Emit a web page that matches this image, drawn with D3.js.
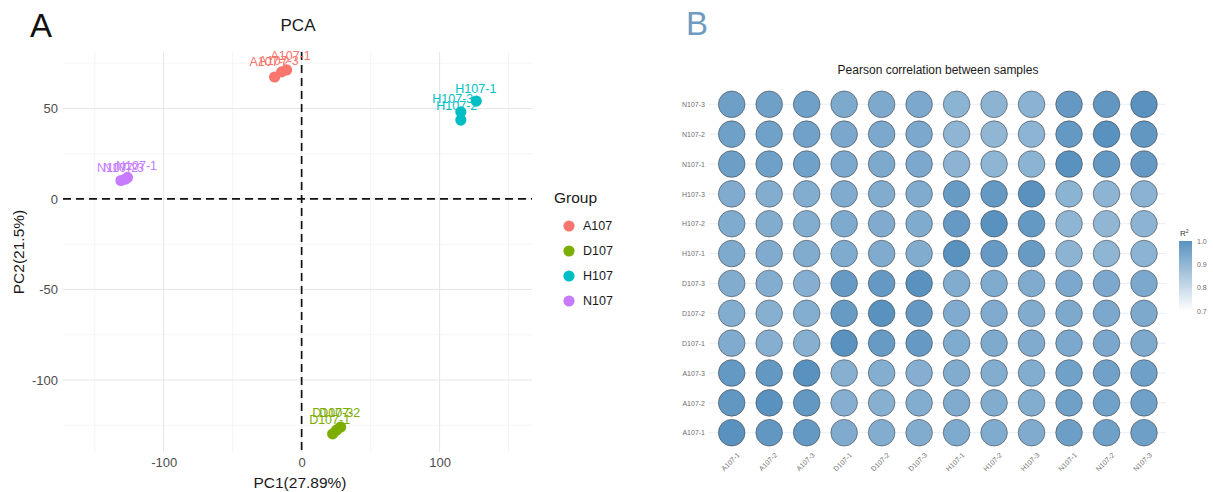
<!DOCTYPE html>
<html>
<head>
<meta charset="utf-8">
<script src="https://cdn.jsdelivr.net/npm/d3@7/dist/d3.min.js"></script>
<style>
  html, body { margin: 0; padding: 0; background: #ffffff; }
  svg { display: block; }
  text { font-family: "Liberation Sans", Arial, sans-serif; }
</style>
</head>
<body>
<svg id="fig" width="1213" height="492"></svg>
<script>
// ---------- Panel A: PCA scores ----------
const pcaSamples = ["A107-1","A107-2","A107-3","D107-1","D107-2","D107-3",
                    "H107-1","H107-2","H107-3","N107-1","N107-2","N107-3"];
const pcaGroup   = ["A107","A107","A107","D107","D107","D107",
                    "H107","H107","H107","N107","N107","N107"];
const pc1 = [-19.6, -14.5, -10.9, 22.5, 28.3, 25.4, 126.6, 115.4, 115.4, -126.3, -131.0, -127.7];
const pc2 = [67.4, 70.2, 71.3, -129.8, -126.0, -127.6, 54.1, 43.6, 48.1, 11.9, 10.2, 11.0];
// repelled label positions (data units)
const labelPC1 = [-8.0, -23.2, -16.7, 20.3, 27.6, 22.5, 126.3, 112.5, 109.6, -119.7, -133.5, -129.2];
const labelPC2 = [79.0, 75.7, 76.2, -122.1, -118.2, -118.2, 60.8, 51.4, 55.2, 18.0, 17.1, 17.1];

const groups = ["A107","D107","H107","N107"];
const groupColors = ["#F8766D","#7CAE00","#00BFC4","#C77CFF"];

const xMajor = [-100, 0, 100];
const xMinor = [-150, -50, 50, 150];
const yMajor = [-100, -50, 0, 50];
const yMinor = [-125, -75, -25, 25, 75];

// ---------- Panel B: Pearson correlation ----------
const corrSamples = ["A107-1","A107-2","A107-3","D107-1","D107-2","D107-3",
                     "H107-1","H107-2","H107-3","N107-1","N107-2","N107-3"];
const r2Matrix = [
  [1.000,0.986,0.982,0.930,0.925,0.928,0.935,0.932,0.930,0.965,0.962,0.963],
  [0.986,1.000,0.984,0.922,0.920,0.925,0.930,0.928,0.926,0.962,0.960,0.961],
  [0.982,0.984,1.000,0.918,0.924,0.922,0.928,0.926,0.925,0.960,0.958,0.962],
  [0.930,0.922,0.918,1.000,0.976,0.978,0.932,0.935,0.930,0.940,0.942,0.938],
  [0.925,0.920,0.924,0.976,1.000,0.980,0.930,0.930,0.928,0.938,0.940,0.936],
  [0.928,0.925,0.922,0.978,0.980,1.000,0.928,0.932,0.930,0.940,0.940,0.940],
  [0.935,0.930,0.928,0.932,0.930,0.928,1.000,0.978,0.975,0.908,0.905,0.910],
  [0.932,0.928,0.926,0.935,0.930,0.932,0.978,1.000,0.982,0.905,0.902,0.908],
  [0.930,0.926,0.925,0.930,0.928,0.930,0.975,0.982,1.000,0.910,0.906,0.912],
  [0.965,0.962,0.960,0.940,0.938,0.940,0.908,0.905,0.910,1.000,0.982,0.980],
  [0.962,0.960,0.958,0.942,0.940,0.940,0.905,0.902,0.906,0.982,1.000,0.985],
  [0.963,0.961,0.962,0.938,0.936,0.940,0.910,0.908,0.912,0.980,0.985,1.000]
];
const r2Ticks = [0.7, 0.8, 0.9, 1.0];

const svg = d3.select("#fig");
svg.append("rect").attr("width", 1213).attr("height", 492).attr("fill", "#ffffff");

// plain hyphen-minus tick labels
const plainNum = d => String(d);

// =====================================================
// Panel A
// =====================================================
const gA = svg.append("g");
const x = d3.scaleLinear().domain([-173, 167]).range([63, 532]);
const y = d3.scaleLinear().domain([-139.8, 81.2]).range([452, 52]);
const color = d3.scaleOrdinal().domain(groups).range(groupColors);

// grid
const grid = gA.append("g");
grid.selectAll(".xmin").data(xMinor).join("line")
  .attr("x1", d => x(d)).attr("x2", d => x(d))
  .attr("y1", y.range()[1]).attr("y2", y.range()[0])
  .attr("stroke", "#f3f3f3").attr("stroke-width", 0.8);
grid.selectAll(".ymin").data(yMinor).join("line")
  .attr("y1", d => y(d)).attr("y2", d => y(d))
  .attr("x1", x.range()[0]).attr("x2", x.range()[1])
  .attr("stroke", "#f3f3f3").attr("stroke-width", 0.8);
grid.selectAll(".xmaj").data(xMajor).join("line")
  .attr("x1", d => x(d)).attr("x2", d => x(d))
  .attr("y1", y.range()[1]).attr("y2", y.range()[0])
  .attr("stroke", "#e6e6e6").attr("stroke-width", 1);
grid.selectAll(".ymaj").data(yMajor).join("line")
  .attr("y1", d => y(d)).attr("y2", d => y(d))
  .attr("x1", x.range()[0]).attr("x2", x.range()[1])
  .attr("stroke", "#e6e6e6").attr("stroke-width", 1);

// axes (labels only)
const xAxis = gA.append("g").attr("transform", "translate(0,456)")
  .call(d3.axisBottom(x).tickValues(xMajor).tickFormat(plainNum).tickSize(0).tickPadding(2));
xAxis.select(".domain").remove();
xAxis.selectAll("text").attr("fill", "#4d4d4d").attr("font-size", 13)
  .attr("font-family", "Liberation Sans, Arial, sans-serif");

const yAxis = gA.append("g").attr("transform", "translate(58,0)")
  .call(d3.axisLeft(y).tickValues(yMajor).tickFormat(plainNum).tickSize(0).tickPadding(0));
yAxis.select(".domain").remove();
yAxis.selectAll("text").attr("fill", "#4d4d4d").attr("font-size", 13)
  .attr("font-family", "Liberation Sans, Arial, sans-serif");

// reference dashed lines
gA.append("line")
  .attr("x1", x.range()[0]).attr("x2", x.range()[1])
  .attr("y1", y(0)).attr("y2", y(0))
  .attr("stroke", "#111").attr("stroke-width", 1.7).attr("stroke-dasharray", "8,5");
gA.append("line")
  .attr("x1", x(0)).attr("x2", x(0))
  .attr("y1", y.range()[1]).attr("y2", y.range()[0])
  .attr("stroke", "#111").attr("stroke-width", 1.7).attr("stroke-dasharray", "8,5");

// sample labels, then points
gA.append("g").selectAll("text").data(pcaSamples).join("text")
  .attr("x", (d, i) => x(labelPC1[i]))
  .attr("y", (d, i) => y(labelPC2[i]))
  .attr("text-anchor", "middle").attr("dominant-baseline", "central")
  .attr("font-size", 12.5)
  .attr("fill", (d, i) => color(pcaGroup[i]))
  .text(d => d);

gA.append("g").selectAll("circle").data(pcaSamples).join("circle")
  .attr("cx", (d, i) => x(pc1[i]))
  .attr("cy", (d, i) => y(pc2[i]))
  .attr("r", 5.6)
  .attr("fill", (d, i) => color(pcaGroup[i]));

// titles
gA.append("text").attr("x", 298).attr("y", 31).attr("text-anchor", "middle")
  .attr("font-size", 17).attr("fill", "#1a1a1a").text("PCA");
gA.append("text").attr("x", 300).attr("y", 488).attr("text-anchor", "middle")
  .attr("font-size", 15.5).attr("fill", "#1a1a1a").text("PC1(27.89%)");
gA.append("text").attr("transform", "translate(24,252) rotate(-90)")
  .attr("text-anchor", "middle")
  .attr("font-size", 15.5).attr("fill", "#1a1a1a").text("PC2(21.5%)");
gA.append("text").attr("x", 30).attr("y", 37)
  .attr("font-family", "Liberation Serif, Times New Roman, serif")
  .attr("font-size", 33).attr("fill", "#111").text("A");

// legend
const leg = gA.append("g");
leg.append("text").attr("x", 554).attr("y", 203).attr("font-size", 15.5)
  .attr("fill", "#1a1a1a").text("Group");
const legItems = leg.selectAll("g.item").data(groups).join("g")
  .attr("transform", (d, i) => `translate(569,${226 + i * 25})`);
legItems.append("circle").attr("r", 5.6).attr("fill", d => color(d));
legItems.append("text").attr("x", 14).attr("dy", "0.35em")
  .attr("font-size", 12.5).attr("fill", "#1a1a1a").text(d => d);

// =====================================================
// Panel B
// =====================================================
const gB = svg.append("g");
const bx = d3.scalePoint().domain(corrSamples).range([731.7, 1144]);
const by = d3.scalePoint().domain(corrSamples).range([432.7, 104.3]);
const fill = d3.scaleLinear().domain([0.7, 1.0]).range(["#ffffff", "#5a92bf"]).clamp(true);

const bLeft = 709, bRight = 1166, bTop = 87, bBottom = 450;
gB.append("g").selectAll("line").data(corrSamples).join("line")
  .attr("x1", bLeft).attr("x2", bRight)
  .attr("y1", d => by(d)).attr("y2", d => by(d))
  .attr("stroke", "#e9eff6").attr("stroke-width", 1);
gB.append("g").selectAll("line").data(corrSamples).join("line")
  .attr("y1", bTop).attr("y2", bBottom)
  .attr("x1", d => bx(d)).attr("x2", d => bx(d))
  .attr("stroke", "#f3f5f8").attr("stroke-width", 1);

const cells = [];
corrSamples.forEach((rowName, i) => {
  corrSamples.forEach((colName, j) => {
    cells.push({ row: rowName, col: colName, value: r2Matrix[i][j] });
  });
});

gB.append("g").selectAll("circle").data(cells).join("circle")
  .attr("cx", d => bx(d.col))
  .attr("cy", d => by(d.row))
  .attr("r", 13.3)
  .attr("fill", d => fill(d.value))
  .attr("stroke", "#3a3a3a").attr("stroke-opacity", 0.55).attr("stroke-width", 1);

// row labels
const byAxis = gB.append("g").attr("transform", "translate(707,0)")
  .call(d3.axisLeft(by).tickSize(0).tickPadding(2));
byAxis.select(".domain").remove();
byAxis.selectAll("text").attr("font-size", 7).attr("fill", "#6e6e6e")
  .attr("font-family", "Liberation Sans, Arial, sans-serif");

// column labels
gB.append("g").selectAll("text").data(corrSamples).join("text")
  .attr("transform", d => `translate(${bx(d) + 5},452) rotate(-45)`)
  .attr("text-anchor", "end").attr("dy", "0.7em")
  .attr("font-size", 7).attr("fill", "#6e6e6e")
  .text(d => d);

gB.append("text").attr("x", 938).attr("y", 74).attr("text-anchor", "middle")
  .attr("font-size", 12).attr("fill", "#1a1a1a").text("Pearson correlation between samples");
gB.append("text").attr("x", 686).attr("y", 35)
  .attr("font-family", "Liberation Serif, Times New Roman, serif")
  .attr("font-size", 33).attr("fill", "#6f9bc2").text("B");

// colour bar
const barScale = d3.scaleLinear().domain([0.7, 1.0]).range([311, 241]);
const defs = svg.append("defs");
const grad = defs.append("linearGradient").attr("id", "r2grad")
  .attr("x1", 0).attr("y1", 1).attr("x2", 0).attr("y2", 0);
d3.range(0, 1.0001, 0.1).forEach(t => {
  const v = 0.7 + t * 0.3;
  grad.append("stop").attr("offset", t).attr("stop-color", fill(v));
});
gB.append("rect").attr("x", 1179).attr("y", barScale(1.0))
  .attr("width", 13).attr("height", barScale(0.7) - barScale(1.0))
  .attr("fill", "url(#r2grad)");
const barAxis = gB.append("g").attr("transform", "translate(1196,0)")
  .call(d3.axisRight(barScale).tickValues(r2Ticks).tickFormat(d3.format(".1f")).tickSize(0).tickPadding(1));
barAxis.select(".domain").remove();
barAxis.selectAll("text").attr("font-size", 7).attr("fill", "#6e6e6e")
  .attr("font-family", "Liberation Sans, Arial, sans-serif");
const r2Title = gB.append("text").attr("x", 1180).attr("y", 236)
  .attr("font-size", 8).attr("fill", "#333");
r2Title.append("tspan").text("R");
r2Title.append("tspan").attr("dy", -3).attr("font-size", 5).text("2");
</script>
</body>
</html>
